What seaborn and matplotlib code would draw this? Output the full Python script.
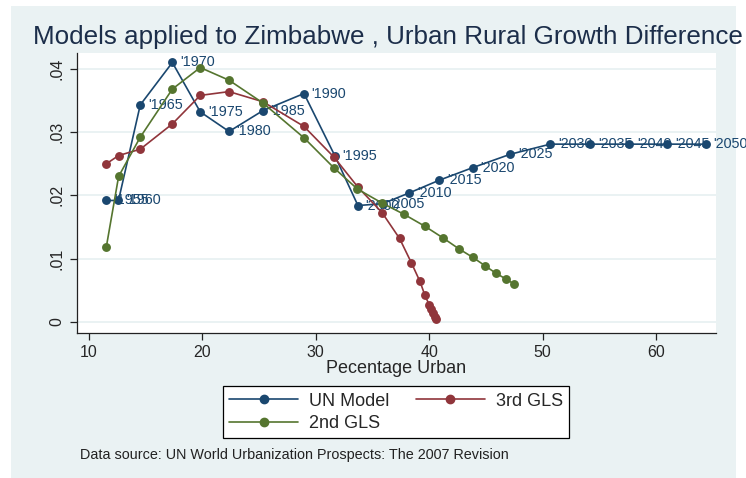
import matplotlib
matplotlib.use("Agg")
import matplotlib.pyplot as plt
from matplotlib.patches import Rectangle
from matplotlib.lines import Line2D
import seaborn as sns
import pandas as pd

# Percentage urban (x) and urban-rural growth difference (y) for each model
un_x = [11.53, 12.60, 14.52, 17.35, 19.81, 22.35, 25.34, 28.96, 31.70, 33.72,
        35.90, 38.25, 40.89, 43.86, 47.15, 50.68, 54.20, 57.65, 61.02, 64.40]
un_y = [0.0192, 0.0192, 0.0343, 0.0410, 0.0332, 0.0301, 0.0334, 0.0361, 0.0262, 0.0184,
        0.0187, 0.0204, 0.0224, 0.0244, 0.0265, 0.0281, 0.0281, 0.0281, 0.0281, 0.0281]
un_years = ["'1955", "'1960", "'1965", "'1970", "'1975", "'1980", "'1985", "'1990",
            "'1995", "'2000", "'2005", "'2010", "'2015", "'2020", "'2025", "'2030",
            "'2035", "'2040", "'2045", "'2050"]

gls3_x = [11.53, 12.61, 14.52, 17.35, 19.81, 22.35, 25.34, 28.96, 31.63, 33.72,
          35.84, 37.39, 38.42, 39.19, 39.63, 40.01, 40.16, 40.30, 40.48, 40.60]
gls3_y = [0.0250, 0.0263, 0.0273, 0.0313, 0.0358, 0.0364, 0.0348, 0.0309, 0.0260, 0.0213,
          0.0173, 0.0132, 0.0094, 0.0064, 0.0042, 0.0027, 0.0020, 0.0014, 0.0008, 0.0005]

gls2_x = [11.53, 12.61, 14.52, 17.35, 19.81, 22.35, 25.34, 28.96, 31.63, 33.68,
          35.84, 37.80, 39.65, 41.21, 42.59, 43.86, 44.92, 45.89, 46.77, 47.48]
gls2_y = [0.0119, 0.0230, 0.0292, 0.0368, 0.0402, 0.0382, 0.0346, 0.0291, 0.0243, 0.0210,
          0.0188, 0.0170, 0.0151, 0.0133, 0.0116, 0.0102, 0.0089, 0.0077, 0.0068, 0.0060]

series_names = ["UN Model", "3rd GLS", "2nd GLS"]
x_ticks = [10, 20, 30, 40, 50, 60]
y_ticks = [0, 0.01, 0.02, 0.03, 0.04]
y_tick_labels = ["0", ".01", ".02", ".03", ".04"]

NAVY = "#1a476f"
MAROON = "#90353b"
GREEN = "#55752f"
BG = "#eaf2f3"
palette = {series_names[0]: NAVY, series_names[1]: MAROON, series_names[2]: GREEN}

df = pd.concat([
    pd.DataFrame({"x": un_x, "y": un_y, "model": series_names[0]}),
    pd.DataFrame({"x": gls3_x, "y": gls3_y, "model": series_names[1]}),
    pd.DataFrame({"x": gls2_x, "y": gls2_y, "model": series_names[2]}),
], ignore_index=True)

sns.set_style("white")
plt.rcParams["font.family"] = ["Liberation Sans", "DejaVu Sans"]

W, H = 746, 478
fig = plt.figure(figsize=(W / 100, H / 100), dpi=100, facecolor="white")
fig.patches.append(Rectangle((11 / W, 0), (736 - 11) / W, 1 - 6 / H,
                             transform=fig.transFigure, facecolor=BG,
                             edgecolor="none", zorder=-10))

ax = fig.add_axes([77 / W, 1 - 332.7 / H, (716 - 77) / W, (332.7 - 53) / H])
ax.set_facecolor("white")

sns.lineplot(data=df, x="x", y="y", hue="model", hue_order=series_names,
             palette=palette, sort=False, estimator=None, marker="o",
             markersize=6.4, markeredgewidth=0, linewidth=1.2, ax=ax,
             legend=False)

# Year labels beside each UN point
for xv, yv, lab in zip(un_x, un_y, un_years):
    ax.annotate(lab, (xv, yv), xytext=(5.5, 0), textcoords="offset points",
                ha="left", va="center", fontsize=10.4, color=NAVY, zorder=1)

ax.set_xlim(8.94, 65.3)
ax.set_ylim(-0.00169, 0.0425)
ax.set_xticks(x_ticks)
ax.set_xticklabels([str(t) for t in x_ticks], fontsize=11.5)
ax.set_yticks(y_ticks)
ax.set_yticklabels(y_tick_labels, fontsize=11.5, rotation=90, va="center")
ax.tick_params(axis="both", direction="out", length=5, width=0.9,
               color="#222222", left=True, bottom=True, pad=4)
ax.grid(axis="y", color=BG, linewidth=1.4)
ax.grid(axis="x", visible=False)
for side in ("top", "right"):
    ax.spines[side].set_visible(False)
for side in ("left", "bottom"):
    ax.spines[side].set_color("#222222")
    ax.spines[side].set_linewidth(0.9)

ax.set_xlabel("Pecentage Urban", fontsize=13, labelpad=0)
ax.set_ylabel("")

fig.text(387.5 / W, 1 - 37 / H,
         "Models applied to Zimbabwe , Urban Rural Growth Difference",
         ha="center", va="center", fontsize=18.7, color="#1c2e4a")

handles = [
    Line2D([], [], color=NAVY, marker="o", markersize=6, linewidth=1.2),
    Line2D([], [], color=GREEN, marker="o", markersize=6, linewidth=1.2),
    Line2D([], [], color=MAROON, marker="o", markersize=6, linewidth=1.2),
]
labels = [series_names[0], series_names[2], series_names[1]]
leg = fig.legend(handles, labels, loc="center", ncol=2,
                 bbox_to_anchor=(396 / W, 1 - 412.3 / H), fontsize=13,
                 frameon=True, fancybox=False, edgecolor="black",
                 facecolor="white", framealpha=1, handlelength=3.8,
                 columnspacing=1.5, borderpad=0.35, labelspacing=0.3,
                 handletextpad=0.6, borderaxespad=0)
leg.get_frame().set_linewidth(0.9)

fig.text(80 / W, 1 - 455 / H,
         "Data source: UN World Urbanization Prospects: The 2007 Revision",
         ha="left", va="center", fontsize=10.4, color="#222222")

fig.savefig("out.png", dpi=100, facecolor=fig.get_facecolor())
